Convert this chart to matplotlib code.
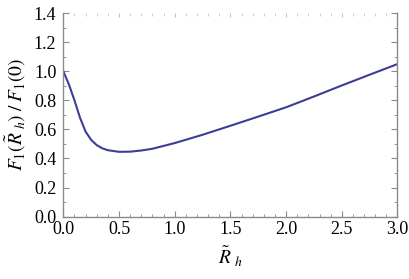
import numpy as np
import matplotlib
matplotlib.use("Agg")
import matplotlib.pyplot as plt
from matplotlib.ticker import MultipleLocator

# values
r_h = [0.0, 0.05, 0.1, 0.15, 0.2, 0.25, 0.3, 0.35, 0.4, 0.5, 0.6, 0.7, 0.8,
       1.0, 1.25, 1.5, 1.75, 2.0, 2.25, 2.5, 2.75, 3.0]
f_ratio = [1.0, 0.91, 0.80, 0.68, 0.585, 0.528, 0.492, 0.47, 0.457, 0.446,
           0.447, 0.455, 0.467, 0.506, 0.563, 0.625, 0.688, 0.752, 0.826,
           0.902, 0.976, 1.049]

x_ticks = [0.0, 0.5, 1.0, 1.5, 2.0, 2.5, 3.0]
y_ticks = [0.0, 0.2, 0.4, 0.6, 0.8, 1.0, 1.2, 1.4]

plt.rcParams["font.family"] = ["Liberation Serif", "DejaVu Serif"]
plt.rcParams["mathtext.fontset"] = "stix"

LINE = "#3d3d99"
FRAME = "#8a8a8a"
TOP_TICKS = "#c4c4c4"

fig = plt.figure(figsize=(4.10, 2.79), dpi=100)
ax = fig.add_axes([0.1544, 0.2233, 0.8151, 0.7301])

ax.plot(r_h, f_ratio, color=LINE, linewidth=1.5, solid_capstyle="round")

ax.set_xlim(0, 3)
ax.set_ylim(0, 1.4)
ax.set_xticks(x_ticks)
ax.set_yticks(y_ticks)
ax.set_xticklabels([f"{v:.1f}" for v in x_ticks])
ax.set_yticklabels([f"{v:.1f}" for v in y_ticks])
ax.xaxis.set_minor_locator(MultipleLocator(0.1))
ax.yaxis.set_minor_locator(MultipleLocator(0.1))

ax.tick_params(which="both", direction="in", right=True, color=FRAME,
               labelsize=13)
ax.tick_params(axis="x", pad=3)
ax.tick_params(axis="y", pad=5)
ax.tick_params(which="major", length=4, width=0.8)
ax.tick_params(which="minor", length=2.2, width=0.6)

for side in ["left", "bottom", "right"]:
    ax.spines[side].set_color(FRAME)
    ax.spines[side].set_linewidth(1.0)
ax.spines["top"].set_visible(False)

# top frame shows only faint ticks
top = ax.secondary_xaxis("top")
top.set_xticks(x_ticks)
top.xaxis.set_minor_locator(MultipleLocator(0.1))
top.tick_params(which="both", direction="in", color=TOP_TICKS, labeltop=False)
top.tick_params(which="major", length=3, width=0.8)
top.tick_params(which="minor", length=2, width=0.6)
top.spines["top"].set_visible(False)

ax.set_xlabel(r"$\tilde{R}\;_h$", fontsize=14, labelpad=5)
ax.set_ylabel(r"$F_1(\tilde{R}\;_h)\;/\;F_1(0)$", fontsize=14, labelpad=4)

fig.savefig("out.png", dpi=100)
